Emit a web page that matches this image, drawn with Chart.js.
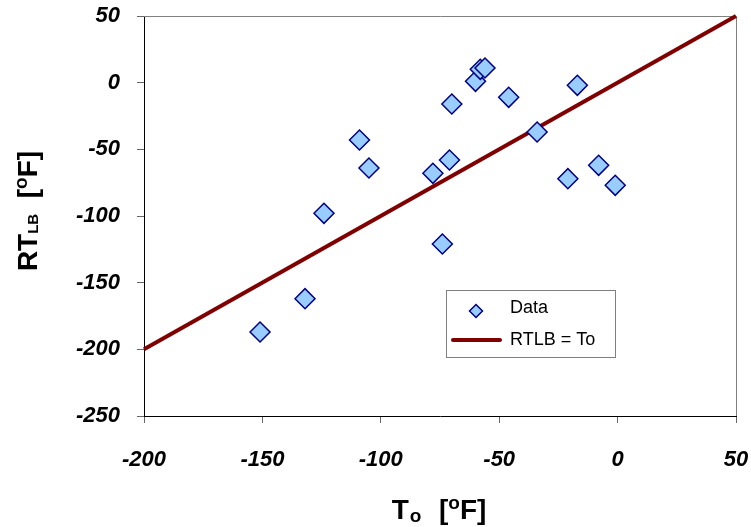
<!DOCTYPE html>
<html lang="en">
<head>
    <meta charset="UTF-8">
    <title>RTLB vs To</title>
    <script src="https://cdn.jsdelivr.net/npm/chart.js"></script>
    <style>
        html, body { margin: 0; padding: 0; background: #fff; }
        #wrap { width: 751px; height: 527px; }
    </style>
</head>
<body>
    <div id="wrap"><canvas id="myChart"></canvas></div>

    <script>
        // Measured data, To vs RTLB [F]
        const toValues = [-151, -132, -124, -109, -105, -78, -71, -70, -74, -60, -58, -56, -46, -34, -17, -21, -8, -1];
        const rtlbValues = [-187, -162, -98, -43, -64, -68, -58, -16, -121, 1, 10, 11, -11, -37, -2, -72, -62, -77];

        // reference line RTLB = To
        const lineX = [-200, 50];
        const lineY = [-200, 50];

        const xTicks = [-200, -150, -100, -50, 0, 50];
        const yTicks = [-250, -200, -150, -100, -50, 0, 50];

        const FONT = 'Arial, "Liberation Sans", sans-serif';

        // draws a title made of segments (sub/superscripts)
        function drawRich(ctx, segs, cx, baseY) {
            let total = 0;
            segs.forEach(s => {
                ctx.font = 'bold ' + s.size + 'px ' + FONT;
                s.w = ctx.measureText(s.t).width + (s.gap || 0);
                total += s.w;
            });
            let x = cx - total / 2;
            ctx.textAlign = 'left';
            ctx.textBaseline = 'alphabetic';
            ctx.fillStyle = '#000';
            segs.forEach(s => {
                ctx.font = 'bold ' + s.size + 'px ' + FONT;
                ctx.fillText(s.t, x, baseY + (s.dy || 0));
                x += s.w;
            });
        }

        const extras = {
            id: 'extras',
            beforeDatasetsDraw(chart) {
                const { ctx, chartArea: a } = chart;
                ctx.save();
                ctx.strokeStyle = '#808080';
                ctx.lineWidth = 1;
                ctx.beginPath();
                ctx.moveTo(a.left, a.top + 0.5);
                ctx.lineTo(a.right + 0.5, a.top + 0.5);
                ctx.lineTo(a.right + 0.5, a.bottom);
                ctx.stroke();
                ctx.restore();
            },
            afterDraw(chart) {
                const { ctx } = chart;
                ctx.save();
                // x title
                drawRich(ctx, [
                    { t: 'T', size: 28, gap: 1 },
                    { t: 'o', size: 19, dy: 3, gap: 2 },
                    { t: '  [', size: 28 },
                    { t: 'o', size: 19, dy: -10 },
                    { t: 'F]', size: 28 }
                ], 439, 519);
                // y title
                ctx.translate(37, 211);
                ctx.rotate(-Math.PI / 2);
                drawRich(ctx, [
                    { t: 'RT', size: 28 },
                    { t: 'LB', size: 15, dy: 1 },
                    { t: '  [', size: 28 },
                    { t: 'o', size: 19, dy: -10 },
                    { t: 'F]', size: 28 }
                ], 0, 0);
                ctx.restore();

                // legend box
                ctx.save();
                const bx = 446, by = 290, bw = 169, bh = 67;
                ctx.fillStyle = '#fff';
                ctx.fillRect(bx, by, bw, bh);
                ctx.strokeStyle = '#808080';
                ctx.lineWidth = 1;
                ctx.strokeRect(bx + 0.5, by + 0.5, bw, bh);
                // diamond
                const dx = 476, dy = 311, r = 6.5;
                ctx.beginPath();
                ctx.moveTo(dx, dy - r);
                ctx.lineTo(dx + r, dy);
                ctx.lineTo(dx, dy + r);
                ctx.lineTo(dx - r, dy);
                ctx.closePath();
                ctx.fillStyle = '#99ccff';
                ctx.fill();
                ctx.strokeStyle = '#000080';
                ctx.lineWidth = 1.5;
                ctx.stroke();
                // line sample
                ctx.strokeStyle = '#800000';
                ctx.lineWidth = 4;
                ctx.lineCap = 'round';
                ctx.beginPath();
                ctx.moveTo(453, 340);
                ctx.lineTo(500, 340);
                ctx.stroke();
                ctx.fillStyle = '#000';
                ctx.font = '18px ' + FONT;
                ctx.textBaseline = 'middle';
                ctx.textAlign = 'left';
                ctx.fillText('Data', 510, 308);
                ctx.fillText('RTLB = To', 510, 340);
                ctx.restore();
            }
        };

        // stop Chart.js from reserving room for overhanging tick labels
        function noPad(s) {
            s.paddingLeft = 0;
            s.paddingRight = 0;
            s.paddingTop = 0;
            s.paddingBottom = 0;
        }

        const ctx = document.getElementById('myChart').getContext('2d');
        const myChart = new Chart(ctx, {
            type: 'scatter',
            data: {
                datasets: [{
                    label: 'Data',
                    data: toValues.map((v, i) => ({ x: v, y: rtlbValues[i] })),
                    pointStyle: 'rectRot',
                    pointRadius: 10,
                    pointHoverRadius: 10,
                    backgroundColor: '#99ccff',
                    borderColor: '#000080',
                    borderWidth: 1.5,
                    order: 0
                }, {
                    type: 'line',
                    label: 'RTLB = To',
                    data: lineX.map((v, i) => ({ x: v, y: lineY[i] })),
                    borderColor: '#800000',
                    borderWidth: 4,
                    pointRadius: 0,
                    fill: false,
                    clip: false,
                    order: 1
                }]
            },
            options: {
                responsive: true,
                maintainAspectRatio: false,
                animation: false,
                layout: { padding: { top: 16, right: 15, left: 0, bottom: 0 } },
                plugins: {
                    legend: { display: false },
                    tooltip: { enabled: false }
                },
                scales: {
                    x: {
                        type: 'linear',
                        min: -200,
                        max: 50,
                        afterBuildTicks: s => { s.ticks = xTicks.map(v => ({ value: v })); },
                        afterFit: s => { s.height = 111; noPad(s); },
                        border: { display: true, color: '#000', width: 1 },
                        grid: { drawOnChartArea: false, tickLength: 7, color: '#666' },
                        ticks: {
                            padding: 24,
                            color: '#000',
                            maxRotation: 0,
                            font: { family: FONT, size: 22, weight: 'bold', style: 'italic' }
                        }
                    },
                    y: {
                        type: 'linear',
                        min: -250,
                        max: 50,
                        afterBuildTicks: s => { s.ticks = yTicks.map(v => ({ value: v })); },
                        afterFit: s => { s.width = 144; noPad(s); },
                        border: { display: true, color: '#000', width: 1 },
                        grid: { drawOnChartArea: false, tickLength: 7, color: '#666' },
                        ticks: {
                            padding: 17,
                            color: '#000',
                            font: { family: FONT, size: 22, weight: 'bold', style: 'italic' }
                        }
                    }
                }
            },
            plugins: [extras]
        });
    </script>
</body>
</html>
